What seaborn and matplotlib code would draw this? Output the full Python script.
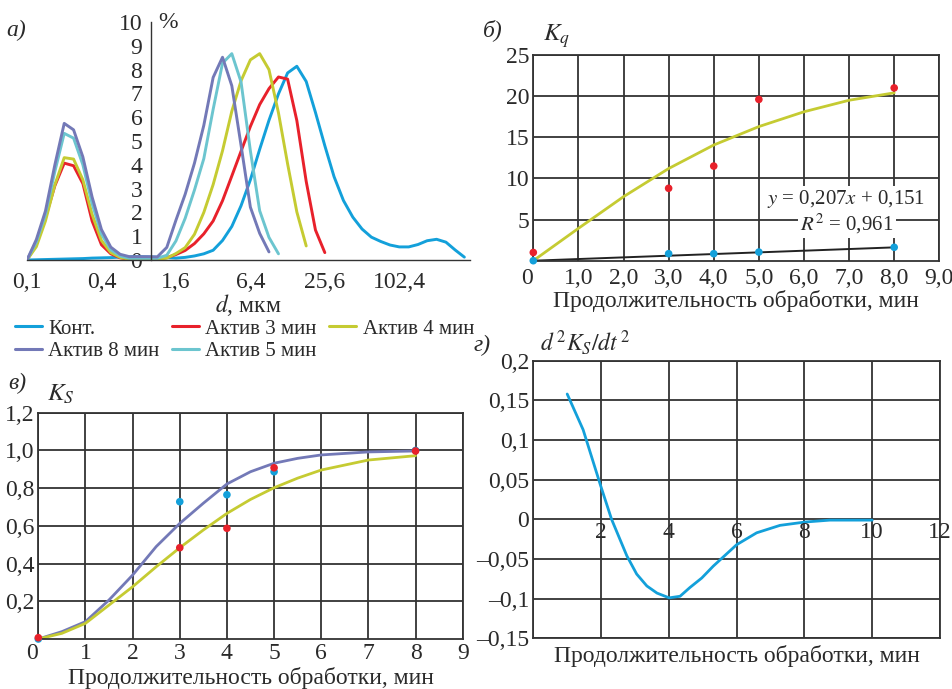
import matplotlib
matplotlib.use("Agg")
import matplotlib.pyplot as plt
from matplotlib.lines import Line2D
from matplotlib.ticker import NullLocator
import pandas as pd
import seaborn as sns

# --- а) распределение частиц по размерам ---
d_um = [0.1, 0.119, 0.141, 0.168, 0.2, 0.238, 0.283, 0.336, 0.4, 0.476, 0.566, 0.673,
        0.8, 0.951, 1.13, 1.35, 1.6, 1.9, 2.26, 2.69, 3.2, 3.81, 4.53, 5.38,
        6.4, 7.61, 9.05, 10.8, 12.8, 15.2, 18.1, 21.5, 25.6, 30.4, 36.2, 43.1,
        51.2, 60.9, 72.4, 86.1, 102.4, 122, 145, 172, 205, 244, 290, 344]
kont = [0, 0.01, 0.02, 0.03, 0.04, 0.05, 0.06, 0.08, 0.09, 0.10, 0.12, 0.13,
        0.14, 0.13, 0.12, 0.10, 0.08, 0.11, 0.17, 0.26, 0.41, 0.82, 1.41, 2.28,
        3.37, 4.65, 5.87, 6.98, 7.86, 8.14, 7.5, 6.2, 4.8, 3.5, 2.5, 1.8,
        1.3, 0.96, 0.78, 0.63, 0.55, 0.55, 0.65, 0.81, 0.87, 0.75, 0.42, 0.12]
akt3 = [0, 0.66, 1.78, 3.12, 4.07, 3.96, 3.21, 1.64, 0.64, 0.26, 0.09, 0.03,
        0.03, 0.03, 0.03, 0.1, 0.23, 0.4, 0.69, 1.1, 1.64, 2.49, 3.53, 4.57,
        5.61, 6.53, 7.2, 7.69, 7.6, 5.86, 3.3, 1.26, 0.31]
akt4 = [0, 0.56, 1.64, 3.16, 4.3, 4.24, 3.37, 1.92, 0.82, 0.31, 0.11, 0.03,
        0.03, 0.03, 0.03, 0.08, 0.27, 0.52, 1.08, 2.0, 3.17, 4.59, 6.25, 7.53,
        8.41, 8.67, 8.0, 6.18, 4.04, 2.02, 0.59]
akt5 = [0, 0.76, 1.92, 3.72, 5.32, 5.12, 4.0, 2.37, 1.09, 0.43, 0.17, 0.07,
        0.07, 0.07, 0.07, 0.2, 0.8, 1.75, 2.94, 4.26, 6.33, 8.27, 8.67, 7.48,
        4.59, 2.07, 0.95, 0.26]
akt8 = [0, 0.86, 2.06, 4.0, 5.74, 5.47, 4.33, 2.65, 1.28, 0.54, 0.24, 0.14,
        0.14, 0.14, 0.13, 0.53, 1.67, 2.76, 4.07, 5.66, 7.67, 8.52, 7.32, 4.82,
        2.22, 1.12, 0.34]
x_ticks_a = [0.1, 0.4, 1.6, 6.4, 25.6, 102.4]
x_labels_a = ["0,1", "0,4", "1,6", "6,4", "25,6", "102,4"]

# --- б) K_q ---
t_b = [0, 3, 4, 5, 8]
kq_red = [1.0, 8.8, 11.5, 19.6, 21.0]
kq_blue = [0, 0.85, 0.85, 1.05, 1.63]
t_b_fit = [0, 1, 2, 3, 4, 5, 6, 7, 8]
kq_fit = [0, 3.93, 7.78, 11.2, 14.06, 16.3, 18.1, 19.5, 20.4]
t_b_lin = [0, 8]
kq_lin = [0, 1.62]
x_labels_b = ["0", "1,0", "2,0", "3,0", "4,0", "5,0", "6,0", "7,0", "8,0", "9,0"]

# --- в) K_S ---
t_v = [0, 3, 4, 5, 8]
ks_blue = [0, 0.728, 0.765, 0.887, 1.0]
ks_red = [0.007, 0.484, 0.587, 0.908, 0.997]
t_v_fit = [0, 0.5, 1, 1.5, 2, 2.5, 3, 3.5, 4, 4.5, 5, 5.5, 6, 7, 8]
ks_fit_8 = [0, 0.039, 0.092, 0.207, 0.339, 0.49, 0.613, 0.72, 0.822, 0.887, 0.932,
            0.958, 0.976, 0.992, 0.997]
ks_fit_4 = [0, 0.03, 0.083, 0.18, 0.277, 0.383, 0.484, 0.578, 0.666, 0.74, 0.802,
            0.853, 0.896, 0.949, 0.972]

# --- г) d2K_S/dt2 ---
t_g = [1.0, 1.47, 1.99, 2.31, 2.76, 3.05, 3.35, 3.65, 4.01, 4.33, 4.62, 4.97,
       5.31, 6.0, 6.59, 7.28, 8.02, 8.75, 10.0]
d2ks = [0.158, 0.113, 0.042, 0.0, -0.046, -0.069, -0.084, -0.093, -0.099, -0.097,
        -0.086, -0.074, -0.059, -0.032, -0.017, -0.0076, -0.0034, -0.001, -0.001]
y_ticks_g = [-0.15, -0.1, -0.05, 0, 0.05, 0.1, 0.15, 0.2]
y_labels_g = ["–0,15", "–0,1", "–0,05", "0", "0,05", "0,1", "0,15", "0,2"]

BLUE = "#13a0da"
RED = "#e8212b"
YELLOW = "#c5cb32"
PURPLE = "#7379b7"
CYAN = "#6cc5cf"
GRID = "#333333"
TXT = "#2a2a2a"
FS = 17

sns.set_style("white")
plt.rcParams["font.family"] = ["Liberation Serif", "DejaVu Serif"]
plt.rcParams["mathtext.fontset"] = "stix"
plt.rcParams["font.size"] = FS
plt.rcParams["text.color"] = TXT
plt.rcParams["axes.labelcolor"] = TXT
plt.rcParams["xtick.color"] = TXT
plt.rcParams["ytick.color"] = TXT

W, H = 953, 689
fig = plt.figure(figsize=(W / 100, H / 100), dpi=100)


def box(l, t, r, b):
    # пиксели -> доли фигуры
    return [l / W, 1 - b / H, (r - l) / W, (b - t) / H]


# ---------- а) ----------
ax_a = fig.add_axes(box(27, 22, 470, 260))
series = [("Конт.", kont, BLUE), ("Актив 3 мин", akt3, RED),
          ("Актив 4 мин", akt4, YELLOW), ("Актив 5 мин", akt5, CYAN),
          ("Актив 8 мин", akt8, PURPLE)]
rows = []
for name, vals, _ in series:
    for d, v in zip(d_um[:len(vals)], vals):
        rows.append({"d": d, "p": v, "s": name})
df_a = pd.DataFrame(rows)
sns.lineplot(data=df_a, x="d", y="p", hue="s", palette={n: c for n, _, c in series},
             sort=False, estimator=None, linewidth=2.1, legend=False, ax=ax_a)
ax_a.set_xscale("log", base=2)
ax_a.set_xlim(0.1, 382)
ax_a.set_ylim(0, 10)
ax_a.spines["top"].set_visible(False)
ax_a.spines["right"].set_visible(False)
ax_a.spines["left"].set_position(("data", 1.0))
for sp in ("left", "bottom"):
    ax_a.spines[sp].set_color(GRID)
    ax_a.spines[sp].set_linewidth(1.0)
ax_a.set_xticks(x_ticks_a)
ax_a.set_xticklabels(x_labels_a)
ax_a.xaxis.set_minor_locator(NullLocator())
ax_a.set_yticks(range(0, 11))
ax_a.tick_params(direction="out", length=4, width=1, color=GRID, pad=2)
ax_a.tick_params(axis="x", pad=5)
ax_a.set_xlabel("$d$, мкм", labelpad=-1)
ax_a.set_ylabel("")
ax_a.text(1.15, 10, "%", ha="left", va="center")

handles = {n: Line2D([], [], color=c, lw=2.2) for n, _, c in series}
order = ["Конт.", "Актив 8 мин", "Актив 3 мин", "Актив 5 мин", "Актив 4 мин"]
fig.legend([handles[n] for n in order], order, ncol=3, frameon=False,
           loc="upper left", bbox_to_anchor=(15 / W, 1 - 319 / H),
           borderaxespad=0, borderpad=0, handlelength=1.3, handletextpad=0.3,
           columnspacing=0.6, labelspacing=0.15, fontsize=15)

# ---------- б) ----------
ax_b = fig.add_axes(box(533.3, 55, 939.3, 260.7))
sns.lineplot(x=t_b_fit, y=kq_fit, color=YELLOW, linewidth=2.0, ax=ax_b)
sns.lineplot(x=t_b_lin, y=kq_lin, color="#222222", linewidth=1.4, ax=ax_b)
sns.scatterplot(x=t_b, y=kq_red, color=RED, s=30, edgecolor="none", clip_on=False,
                zorder=5, ax=ax_b)
sns.scatterplot(x=t_b, y=kq_blue, color=BLUE, s=30, edgecolor="none", clip_on=False,
                zorder=5, ax=ax_b)
ax_b.set_xlim(0, 9)
ax_b.set_ylim(0, 25)
ax_b.set_xticks(range(10))
ax_b.set_xticklabels(x_labels_b)
ax_b.set_yticks([5, 10, 15, 20, 25])
ax_b.set_yticklabels(["5", "10", "15", "20", "25"])
ax_b.set_xlabel("Продолжительность обработки, мин", labelpad=1)
ax_b.text(6.93, 7.5, "$y$ = 0,207$x$ + 0,151", ha="center", va="center", fontsize=15,
          bbox=dict(fc="white", ec="none", pad=1.5), zorder=6)
ax_b.text(6.95, 4.5, "$R^2$ = 0,961", ha="center", va="center", fontsize=15,
          bbox=dict(fc="white", ec="none", pad=1.5), zorder=6)

# ---------- в) ----------
ax_v = fig.add_axes(box(38.3, 412.7, 462.7, 639))
sns.lineplot(x=t_v_fit, y=ks_fit_8, color=PURPLE, linewidth=2.0, ax=ax_v)
sns.lineplot(x=t_v_fit, y=ks_fit_4, color=YELLOW, linewidth=2.0, ax=ax_v)
sns.scatterplot(x=t_v, y=ks_blue, color=BLUE, s=30, edgecolor="none", clip_on=False,
                zorder=5, ax=ax_v)
sns.scatterplot(x=t_v, y=ks_red, color=RED, s=30, edgecolor="none", clip_on=False,
                zorder=6, ax=ax_v)
ax_v.set_xlim(0, 9)
ax_v.set_ylim(0, 1.2)
ax_v.set_xticks(range(10))
ax_v.set_xticklabels([str(i) for i in range(10)])
ax_v.set_yticks([0.2, 0.4, 0.6, 0.8, 1.0, 1.2])
ax_v.set_yticklabels(["0,2", "0,4", "0,6", "0,8", "1,0", "1,2"])
ax_v.set_xlabel("Продолжительность обработки, мин", labelpad=2)

# ---------- г) ----------
ax_g = fig.add_axes(box(533.3, 360.7, 940, 638.3))
sns.lineplot(x=t_g, y=d2ks, color=BLUE, linewidth=2.0, sort=False, ax=ax_g)
ax_g.set_xlim(0, 12)
ax_g.set_ylim(-0.15, 0.2)
ax_g.set_xticks(range(0, 13, 2))
ax_g.set_xticklabels([])
ax_g.set_yticks(y_ticks_g)
ax_g.set_yticklabels(y_labels_g)
ax_g.set_xlabel("Продолжительность обработки, мин", labelpad=2)
for v in range(2, 13, 2):
    ax_g.annotate(str(v), (v, 0), xytext=(0, -2), textcoords="offset points",
                  ha="center", va="top")

for ax in (ax_b, ax_v, ax_g):
    ax.grid(True, color=GRID, linewidth=1.3)
    ax.set_axisbelow(True)
    for sp in ax.spines.values():
        sp.set_color(GRID)
        sp.set_linewidth(1.3)
    ax.tick_params(length=0, pad=3)
    ax.set_ylabel("")
ax_b.tick_params(axis="x", pad=5)
for ax in (ax_b, ax_v):
    ax.get_xticklabels()[0].set_horizontalalignment("right")

# подписи панелей и осей
fig.text(6 / W, 1 - 30 / H, "а)", style="italic", va="center")
fig.text(483 / W, 1 - 30 / H, "б)", style="italic", va="center")
fig.text(8 / W, 1 - 383 / H, "в)", style="italic", va="center")
fig.text(474 / W, 1 - 345 / H, "г)", style="italic", va="center")
fig.text(543 / W, 1 - 36 / H, "$K_q$", va="center", fontsize=18)
fig.text(47 / W, 1 - 394 / H, "$K_S$", va="center", fontsize=18)
fig.text(540 / W, 1 - 343 / H, "$d^{\\,2}K_S/dt^{\\,2}$", va="center", fontsize=17)

fig.savefig("out.png", dpi=100)
